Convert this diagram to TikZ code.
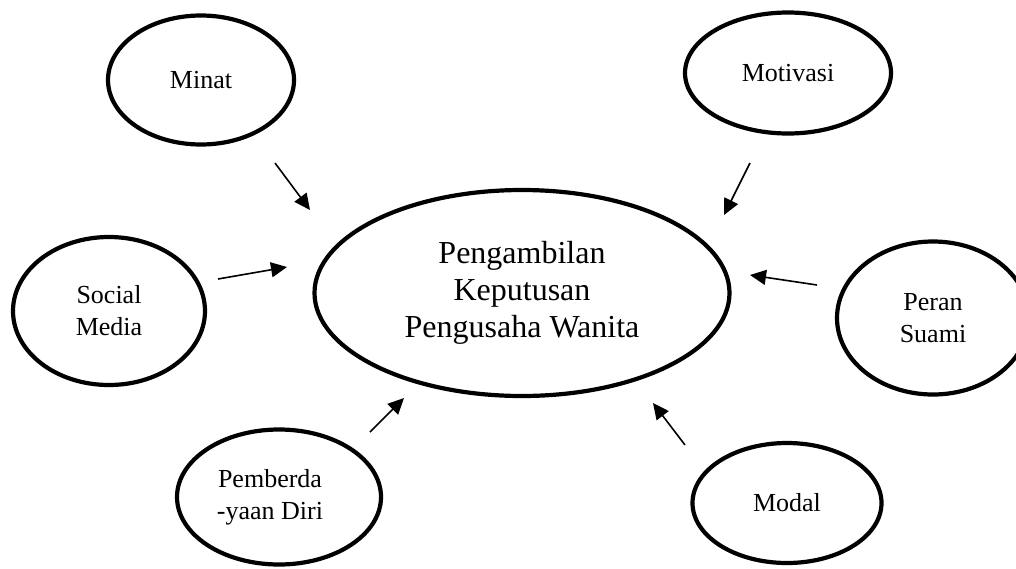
\documentclass[tikz,border=0pt]{standalone}
\usepackage{fontspec}
\setmainfont{Liberation Serif}
\usetikzlibrary{shapes}
\usetikzlibrary {arrows.meta}
\tikzset{faktor/.style = {
shape=ellipse, draw, line width=2.1pt, inner sep=0pt, align=center, font=\fontsize{13pt}{16pt}\selectfont
}}
\tikzset{pusat/.style = {faktor, font=\fontsize{16pt}{18.5pt}\selectfont}}
\tikzset{panah/.style = {-{Triangle[length=8pt,width=7.5pt]}, line width=0.8pt}}

\begin{document}
\begin{tikzpicture}[x=0.5pt,y=-0.5pt]
\useasboundingbox (0,0) rectangle (1016,568);

\node[pusat,minimum width=207.5pt,minimum height=103pt] (pusat) at (522,293){Pengambilan\\Keputusan\\Pengusaha Wanita};

\node[faktor,minimum width=93pt,minimum height=64.5pt] (minat) at (201,80){Minat};
\node[faktor,minimum width=103pt,minimum height=60.5pt] (motivasi) at (788,73){Motivasi};
\node[faktor,minimum width=96pt,minimum height=74pt] (sosmed) at (109,311){Social\\Media};
\node[faktor,minimum width=96pt,minimum height=76.5pt] (suami) at (933,318){Peran\\Suami};
\node[faktor,minimum width=102pt,minimum height=67.5pt] (diri) at (279,497){Pemberda\rule{9pt}{0pt}\\-yaan Diri\rule{9pt}{0pt}};
\node[faktor,minimum width=94.5pt,minimum height=60pt] (modal) at (787,503){Modal};

\coordinate (minat-a) at (275,163);
\coordinate (minat-b) at (310,210);
\coordinate (motivasi-a) at (750,163);
\coordinate (motivasi-b) at (724,215);
\coordinate (sosmed-a) at (218,279);
\coordinate (sosmed-b) at (287,267);
\coordinate (suami-a) at (817,285);
\coordinate (suami-b) at (750,275);
\coordinate (diri-a) at (370,432);
\coordinate (diri-b) at (404,398);
\coordinate (modal-a) at (685,445);
\coordinate (modal-b) at (653,403);

\draw [panah] (minat-a) -- (minat-b);
\draw [panah] (motivasi-a) -- (motivasi-b);
\draw [panah] (sosmed-a) -- (sosmed-b);
\draw [panah] (suami-a) -- (suami-b);
\draw [panah] (diri-a) -- (diri-b);
\draw [panah] (modal-a) -- (modal-b);

\end{tikzpicture}
\end{document}
